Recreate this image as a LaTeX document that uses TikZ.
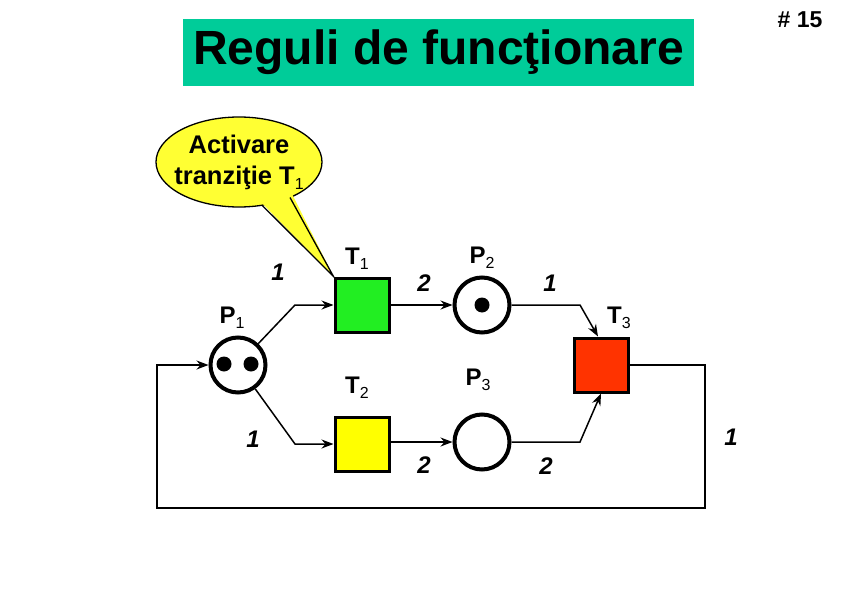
\documentclass[tikz,border=0pt]{standalone}
\usepackage{fontspec}
\setmainfont{Liberation Sans}
\usetikzlibrary{arrows.meta,calc}
\definecolor{titlebg}{HTML}{00CC99}
\definecolor{tgreen}{HTML}{22EE22}
\definecolor{tyellow}{HTML}{FFFF00}
\definecolor{tred}{HTML}{FF3300}
\definecolor{cyellow}{HTML}{FFFF33}
\newcommand{\sub}[1]{\raisebox{-5pt}{\fontsize{16}{16}\selectfont\mdseries #1}}
\begin{document}
\begin{tikzpicture}[x=1pt,y=-1pt,
  place/.style={circle, draw, line width=4pt, minimum size=55pt, inner sep=0pt},
  trans/.style={draw, line width=3pt, minimum size=54pt, inner sep=0pt},
  arc/.style={line width=1.5pt, -{Stealth[length=12pt,width=9pt,inset=4pt]}},
  tok/.style={circle, fill=black, minimum size=15pt, inner sep=0pt},
  lbl/.style={font=\fontsize{24}{28}\selectfont\bfseries, inner sep=0pt},
  wt/.style={font=\fontsize{24}{28}\selectfont\bfseries\itshape, inner sep=0pt}]
\useasboundingbox (0,0) rectangle (842,596);
\fill[white] (0,0) rectangle (842,596);

% title
\node[fill=titlebg, minimum width=511pt, minimum height=67pt, inner sep=0pt,
      font=\fontsize{48}{56}\selectfont\bfseries] (title) at (438.5,52.5) {Reguli de funcţionare};
\node[font=\fontsize{23}{26}\selectfont\bfseries] (num) at (800,20) {\# 15};

% places
\node[place] (P1) at (238,365) {};
\node[tok] (k1) at (224,364) {};
\node[tok] (k2) at (251,364) {};
\node[place] (P2) at (482,305) {};
\node[tok] (k3) at (482,305) {};
\node[place] (P3) at (482,442) {};

% transitions
\node[trans, fill=tgreen] (T1) at (362,305) {};
\node[trans, fill=tyellow] (T2) at (362,444) {};
\node[trans, fill=tred] (T3) at (601,365) {};

% labels
\node[lbl] (lP1) at (232,318) {P\sub{1}};
\node[lbl] (lP2) at (482,258) {P\sub{2}};
\node[lbl] (lP3) at (478,380) {P\sub{3}};
\node[lbl] (lT1) at (357,259) {T\sub{1}};
\node[lbl] (lT2) at (357,388) {T\sub{2}};
\node[lbl] (lT3) at (619,318) {T\sub{3}};

% bends
\coordinate (a1) at (295,305);
\coordinate (a2) at (295,444);
\coordinate (b1) at (580,305);
\coordinate (b2) at (580,442);
\coordinate (c1) at (705,365);
\coordinate (c2) at (705,508);
\coordinate (c3) at (157,508);
\coordinate (c4) at (157,365);

% arcs
\draw[arc] (P1) -- (a1) -- (T1);
\draw[arc] (P1) -- (a2) -- (T2);
\draw[arc] (T1) -- (P2);
\draw[arc] (T2.east |- P3) -- (P3);
\draw[arc] (P2) -- (b1) -- ([xshift=-3pt]T3.north);
\draw[arc] (P3) -- (b2) -- (T3.south);
\draw[arc] (T3.east) -- (c1) -- (c2) -- (c3) -- (c4) -- (P1);

% weights
\node[wt] (w1) at (278,272) {1};
\node[wt] (w2) at (253,439) {1};
\node[wt] (w3) at (424,283) {2};
\node[wt] (w4) at (424,465) {2};
\node[wt] (w5) at (550,283) {1};
\node[wt] (w6) at (546,466) {2};
\node[wt] (w7) at (731,437) {1};

% callout
\draw[fill=cyellow, line width=1.3pt] (239,162) ellipse [x radius=83, y radius=45];
\fill[cyellow] (259,200) -- (T1.north west) -- (291,192) -- cycle;
\draw[line width=1.3pt] (262,205.2) -- (T1.north west) -- (290,197.5);
\node[align=center, font=\fontsize{25.5}{31}\selectfont\bfseries, inner sep=0pt] (callout) at (239,162)
  {Activare\\tranziţie T\sub{1}};
\end{tikzpicture}
\end{document}
